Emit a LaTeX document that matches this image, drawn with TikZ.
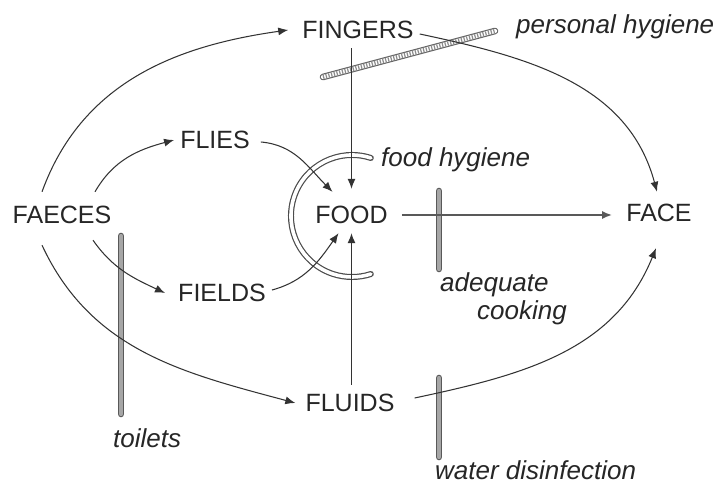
\documentclass[tikz,border=0pt]{standalone}
\usepackage{fontspec}
\setmainfont{Liberation Sans}
\usetikzlibrary{arrows.meta}
\begin{document}
\begin{tikzpicture}[x=1pt,y=1pt,
  lbl/.style={font=\fontsize{25}{30}\selectfont, inner xsep=6pt, inner ysep=9pt, text height=18pt, text depth=0pt, text=black!85},
  note/.style={font=\fontsize{26}{30}\selectfont\itshape, inner sep=0pt, anchor=west, text=black!85},
  conn/.style={line width=1.05pt, draw=black!80, -{Latex[length=10pt,width=8pt]}},
  thickconn/.style={conn, line width=1.8pt, draw=black!65},
  bar/.style={line width=4.2pt, draw=black!35, line cap=round, preaction={draw=black!65, line width=6.6pt, line cap=round}},
  hatchbar/.style={line width=4.2pt, draw=white, line cap=round, preaction={draw=black!60, line width=6.6pt, line cap=round}},
  hatch/.style={line width=4.2pt, draw=black!45, dash pattern=on 1.2pt off 1.6pt},
  fharc/.style={line width=3.6pt, draw=white, line cap=round, preaction={draw=black!70, line width=6pt, line cap=round}}
]
\useasboundingbox (0,0) rectangle (718,485);

% nodes
\node[lbl] (fingers) at (358,455) {FINGERS};
\node[lbl] (flies) at (215,345) {FLIES};
\node[lbl] (faeces) at (62,270) {FAECES};
\node[lbl] (food) at (351.5,270) {FOOD};
\node[lbl] (face) at (659,272) {FACE};
\node[lbl] (fields) at (222,192) {FIELDS};
\node[lbl] (fluids) at (350,82) {FLUIDS};

% barrier labels
\node[note] (ph) at (516,458) {personal hygiene};
\node[note] (fh) at (381,325) {food hygiene};
\node[note] (ac1) at (440,200) {adequate};
\node[note] (ac2) at (477,172) {cooking};
\node[note] (toil) at (113,47) {toilets};
\node[note] (wd) at (435,15) {water disinfection};

% barriers
\coordinate (phA) at (323,408);
\coordinate (phB) at (495,454);
\draw[hatchbar] (phA) -- (phB);
\draw[hatch] (phA) -- (phB);
\draw[fharc] (352,269) ++(72:61) arc[start angle=72,end angle=288,radius=61];
\draw[bar] (439,294) -- (439,216);
\draw[bar] (121,249) -- (121,71);
\draw[bar] (439,107) -- (439,28);

% connectors
\draw[conn] ([xshift=-20pt,yshift=5pt]faeces.north) to[out=70,in=188] ([xshift=-8pt]fingers.west);
\draw[conn] ([yshift=-4pt]fingers.east) to[out=-12,in=105] ([xshift=-2pt,yshift=3pt]face.north);
\draw[conn] (fingers.south -| food.north) -- ([yshift=8pt]food.north);
\draw[conn] ([xshift=33pt,yshift=5pt]faeces.north) to[out=60,in=195] (flies.west);
\draw[conn] ([xshift=5pt,yshift=-2pt]flies.east) to[out=-5,in=135] ([xshift=-19pt,yshift=5pt]food.north);
\draw[conn] ([xshift=31pt,yshift=-7pt]faeces.south) to[out=-55,in=155] ([xshift=-7pt]fields.west);
\draw[conn] ([yshift=3pt]fields.east) to[out=15,in=235] ([xshift=-13pt]food.south);
\draw[conn] (food.south |- fluids.north) -- (food.south);
\draw[thickconn] ([xshift=8pt]food.east) -- ([xshift=-8pt]food.east -| face.west);
\draw[conn] ([xshift=-20pt,yshift=-12pt]faeces.south) to[out=-65,in=165] ([xshift=-4pt]fluids.west);
\draw[conn] ([xshift=14pt,yshift=5pt]fluids.east) to[out=12,in=-112] ([xshift=-3pt,yshift=-17pt]face.south);
\end{tikzpicture}
\end{document}
